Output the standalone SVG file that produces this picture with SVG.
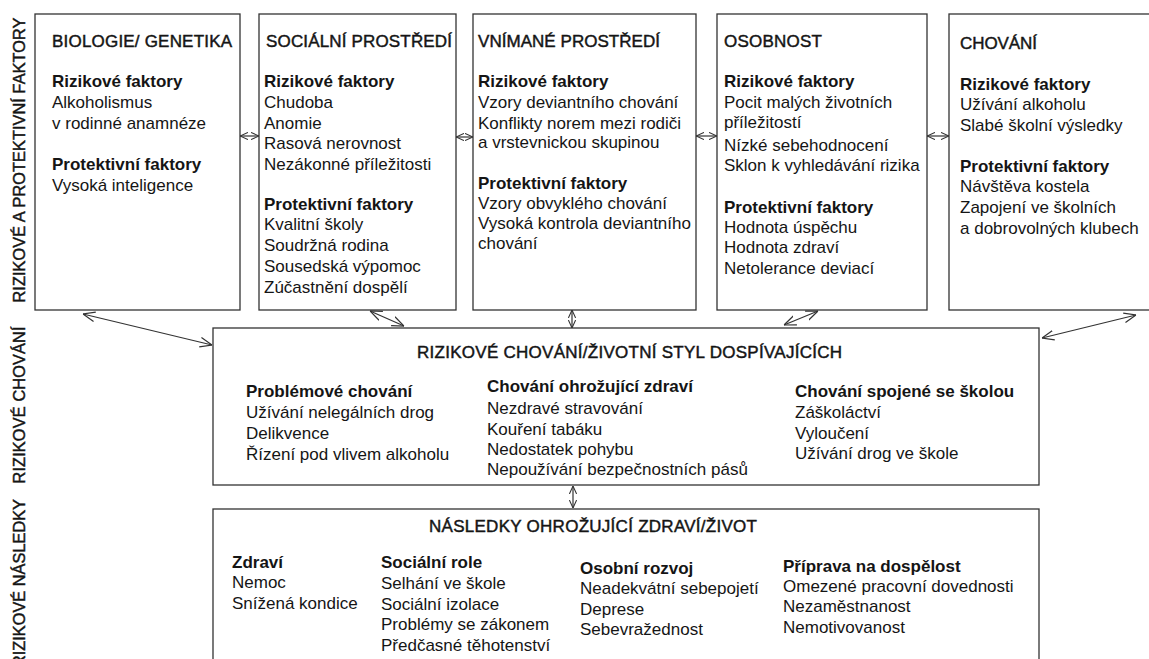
<svg xmlns="http://www.w3.org/2000/svg" width="1149" height="659" viewBox="0 0 1149 659">
<defs>
<style>
text{font-family:"Liberation Sans",Arial,sans-serif;fill:#151515;font-size:17px}
.b{font-weight:bold}
.h{stroke:#151515;stroke-width:0.45}
.side{font-size:16.3px;stroke:#151515;stroke-width:0.45}
.box{fill:#fff;stroke:#333;stroke-width:1.3}
.con{stroke:#333;stroke-width:1.2;fill:none}
</style>
<marker id="ah" viewBox="0 0 10 10" refX="10" refY="5" markerWidth="8" markerHeight="8" markerUnits="userSpaceOnUse" orient="auto-start-reverse">
<path d="M0,0.5 L10,5 L0,9.5" fill="none" stroke="#333" stroke-width="1.3"/>
</marker>
<marker id="al" viewBox="0 0 10 10" refX="10" refY="5" markerWidth="12" markerHeight="12" markerUnits="userSpaceOnUse" orient="auto-start-reverse">
<path d="M0,1 L10,5 L0,9" fill="none" stroke="#333" stroke-width="1"/>
</marker>
</defs>
<rect width="1149" height="659" fill="#fff"/>

<g id="side-labels">
<text class="side" transform="translate(25,160) rotate(-90)" text-anchor="middle" textLength="285">RIZIKOVÉ A PROTEKTIVNÍ FAKTORY</text>
<text class="side" transform="translate(25,405) rotate(-90)" text-anchor="middle" textLength="157">RIZIKOVÉ CHOVÁNÍ</text>
<text class="side" transform="translate(25,667) rotate(-90)" textLength="168">RIZIKOVÉ NÁSLEDKY</text>
</g>

<g id="biologie">
<rect class="box" x="35" y="14" width="205" height="296"/>
<text class="h" x="52" y="47" textLength="180">BIOLOGIE/ GENETIKA</text>
<text class="b" x="52" y="87">Rizikové faktory</text>
<text x="52" y="108">Alkoholismus</text>
<text x="52" y="129">v rodinné anamnéze</text>
<text class="b" x="52" y="170">Protektivní faktory</text>
<text x="52" y="191">Vysoká inteligence</text>
</g>

<g id="socialni">
<rect class="box" x="259" y="14" width="197" height="296"/>
<text class="h" x="266" y="47" textLength="186">SOCIÁLNÍ PROSTŘEDÍ</text>
<text class="b" x="264" y="87">Rizikové faktory</text>
<text x="264" y="108">Chudoba</text>
<text x="264" y="129">Anomie</text>
<text x="264" y="149">Rasová nerovnost</text>
<text x="264" y="170">Nezákonné příležitosti</text>
<text class="b" x="264" y="210">Protektivní faktory</text>
<text x="264" y="230">Kvalitní školy</text>
<text x="264" y="251">Soudržná rodina</text>
<text x="264" y="272">Sousedská výpomoc</text>
<text x="264" y="293">Zúčastnění dospělí</text>
</g>

<g id="vnimane">
<rect class="box" x="473" y="14" width="223" height="296"/>
<text class="h" x="478" y="47" textLength="182">VNÍMANÉ PROSTŘEDÍ</text>
<text class="b" x="478" y="87">Rizikové faktory</text>
<text x="478" y="108">Vzory deviantního chování</text>
<text x="478" y="129">Konflikty norem mezi rodiči</text>
<text x="478" y="148">a vrstevnickou skupinou</text>
<text class="b" x="478" y="189">Protektivní faktory</text>
<text x="478" y="209">Vzory obvyklého chování</text>
<text x="478" y="229">Vysoká kontrola deviantního</text>
<text x="478" y="249">chování</text>
</g>

<g id="osobnost">
<rect class="box" x="717" y="14" width="210" height="296"/>
<text class="h" x="724" y="47" textLength="98">OSOBNOST</text>
<text class="b" x="724" y="87">Rizikové faktory</text>
<text x="724" y="108">Pocit malých životních</text>
<text x="724" y="128">příležitostí</text>
<text x="724" y="151">Nízké sebehodnocení</text>
<text x="724" y="171">Sklon k vyhledávání rizika</text>
<text class="b" x="724" y="213">Protektivní faktory</text>
<text x="724" y="233">Hodnota úspěchu</text>
<text x="724" y="253">Hodnota zdraví</text>
<text x="724" y="274">Netolerance deviací</text>
</g>

<g id="chovani">
<rect class="box" x="949" y="14" width="220" height="296"/>
<text class="h" x="960" y="49" textLength="77">CHOVÁNÍ</text>
<text class="b" x="960" y="90">Rizikové faktory</text>
<text x="960" y="110">Užívání alkoholu</text>
<text x="960" y="131">Slabé školní výsledky</text>
<text class="b" x="960" y="172">Protektivní faktory</text>
<text x="960" y="192">Návštěva kostela</text>
<text x="960" y="213">Zapojení ve školních</text>
<text x="960" y="234">a dobrovolných klubech</text>
</g>

<g id="rizikove-chovani">
<rect class="box" x="213" y="328" width="826" height="157"/>
<text class="h" x="417" y="358" textLength="425">RIZIKOVÉ CHOVÁNÍ/ŽIVOTNÍ STYL DOSPÍVAJÍCÍCH</text>
<text class="b" x="246" y="397">Problémové chování</text>
<text x="246" y="418">Užívání nelegálních drog</text>
<text x="246" y="439">Delikvence</text>
<text x="246" y="460">Řízení pod vlivem alkoholu</text>
<text class="b" x="487" y="392">Chování ohrožující zdraví</text>
<text x="487" y="414">Nezdravé stravování</text>
<text x="487" y="435">Kouření tabáku</text>
<text x="487" y="455">Nedostatek pohybu</text>
<text x="487" y="475">Nepoužívání bezpečnostních pásů</text>
<text class="b" x="795" y="397">Chování spojené se školou</text>
<text x="795" y="418">Záškoláctví</text>
<text x="795" y="439">Vyloučení</text>
<text x="795" y="459">Užívání drog ve škole</text>
</g>

<g id="nasledky">
<rect class="box" x="213" y="509" width="826" height="170"/>
<text class="h" x="429" y="532" textLength="328">NÁSLEDKY OHROŽUJÍCÍ ZDRAVÍ/ŽIVOT</text>
<text class="b" x="232" y="568">Zdraví</text>
<text x="232" y="588">Nemoc</text>
<text x="232" y="609">Snížená kondice</text>
<text class="b" x="381" y="568">Sociální role</text>
<text x="381" y="589">Selhání ve škole</text>
<text x="381" y="610">Sociální izolace</text>
<text x="381" y="630">Problémy se zákonem</text>
<text x="381" y="651">Předčasné těhotenství</text>
<text class="b" x="580" y="574">Osobní rozvoj</text>
<text x="580" y="594">Neadekvátní sebepojetí</text>
<text x="580" y="615">Deprese</text>
<text x="580" y="635">Sebevražednost</text>
<text class="b" x="783" y="572">Příprava na dospělost</text>
<text x="783" y="592">Omezené pracovní dovednosti</text>
<text x="783" y="612">Nezaměstnanost</text>
<text x="783" y="633">Nemotivovanost</text>
</g>

<g id="connectors" class="con">
<line x1="240" y1="136" x2="259" y2="136" marker-start="url(#ah)" marker-end="url(#ah)"/>
<line x1="456" y1="137" x2="473" y2="137" marker-start="url(#ah)" marker-end="url(#ah)"/>
<line x1="696" y1="136" x2="717" y2="136" marker-start="url(#ah)" marker-end="url(#ah)"/>
<line x1="927" y1="136" x2="949" y2="136" marker-start="url(#ah)" marker-end="url(#ah)"/>
<line x1="83" y1="314" x2="212" y2="345" marker-start="url(#al)" marker-end="url(#al)"/>
<line x1="370" y1="311" x2="404" y2="326" marker-start="url(#al)" marker-end="url(#al)"/>
<line x1="572" y1="310" x2="572" y2="328" marker-start="url(#ah)" marker-end="url(#ah)"/>
<line x1="784" y1="325" x2="818" y2="311" marker-start="url(#al)" marker-end="url(#al)"/>
<line x1="1042" y1="338" x2="1136" y2="315" marker-start="url(#al)" marker-end="url(#al)"/>
<line x1="573" y1="486" x2="573" y2="508" marker-start="url(#ah)" marker-end="url(#ah)"/>
</g>
</svg>
